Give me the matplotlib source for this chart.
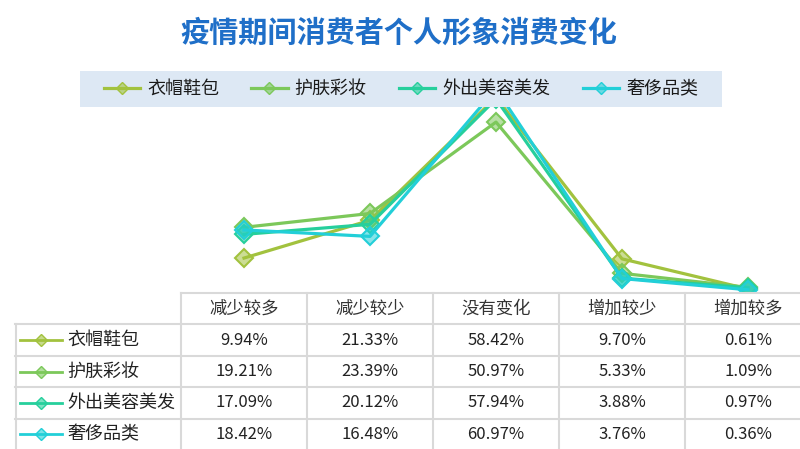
import matplotlib
matplotlib.use("Agg")
import matplotlib.pyplot as plt
from matplotlib.patches import Rectangle
from matplotlib.lines import Line2D

plt.rcParams['font.family'] = ['Noto Sans CJK SC', 'DejaVu Sans']

title = "疫情期间消费者个人形象消费变化"
categories = ["减少较多", "减少较少", "没有变化", "增加较少", "增加较多"]
series_names = ["衣帽鞋包", "护肤彩妆", "外出美容美发", "奢侈品类"]
clothing = [9.94, 21.33, 58.42, 9.70, 0.61]
skincare = [19.21, 23.39, 50.97, 5.33, 1.09]
beauty_salon = [17.09, 20.12, 57.94, 3.88, 0.97]
luxury = [18.42, 16.48, 60.97, 3.76, 0.36]
colors = ["#a2c23e", "#7cc85a", "#26cf9c", "#22cfd8"]

all_series = [clothing, skincare, beauty_salon, luxury]

W, H = 800, 449
fig = plt.figure(figsize=(8, 4.49), dpi=100)

# line chart area (pixel layout)
ax_left, ax_right = 181, 811
ax_zero, ax_top = 291, 59
ax = fig.add_axes([ax_left / W, (H - ax_zero) / H,
                   (ax_right - ax_left) / W, (ax_zero - ax_top) / H])
x = list(range(len(categories)))
for vals, name, c in zip(all_series, series_names, colors):
    ax.plot(x, vals, color=c, lw=2.3, marker="D", markersize=9,
            markerfacecolor=matplotlib.colors.to_rgba(c, 0.55),
            markeredgecolor=c, markeredgewidth=1.5, label=name)
ax.set_xlim(-0.5, len(categories) - 0.5)
ax.set_ylim(0, 70)
ax.axis("off")

# title
fig.text(399 / W, 1 - 33 / H, title, ha="center", va="center",
         fontsize=21, fontweight="bold", color="#1f6fc8")

# legend with light band behind
fig.patches.append(Rectangle((80 / W, 1 - 107 / H), 642 / W, 36 / H,
                             transform=fig.transFigure, facecolor="#dde8f4",
                             edgecolor="none", zorder=4))
handles = [Line2D([], [], color=c, lw=2.3, marker="D", markersize=6,
                  markerfacecolor=matplotlib.colors.to_rgba(c, 0.6),
                  markeredgecolor=c) for c in colors]
fig.legend(handles, series_names, loc="center", ncol=4,
           bbox_to_anchor=(401 / W, 1 - 89 / H), frameon=False,
           fontsize=13, handlelength=2.0, handletextpad=0.4,
           columnspacing=1.8, labelcolor="#1a1a1a")

# data table below
tb_left, tb_top, tb_bottom = 15, 293, 450
col_w = (ax_right - ax_left) / len(categories)
x0 = -0.5 - (ax_left - tb_left) / col_w
tx = fig.add_axes([tb_left / W, (H - tb_bottom) / H,
                   (ax_right - tb_left) / W, (tb_bottom - tb_top) / H])
tx.set_xlim(x0, len(categories) - 0.5)
tx.set_ylim(5, 0)
tx.axis("off")
grid_kw = dict(color="#d9d9d9", lw=1.5, clip_on=False)
tx.plot([-0.5, len(categories) - 0.5], [0, 0], **grid_kw)
for r in range(1, 5):
    tx.plot([x0, len(categories) - 0.5], [r, r], **grid_kw)
for k in range(len(categories) + 1):
    tx.plot([k - 0.5, k - 0.5], [0, 5], **grid_kw)
tx.plot([x0 + 0.01, x0 + 0.01], [1, 5], **grid_kw)

for i, cat in enumerate(categories):
    tx.text(i, 0.5, cat, ha="center", va="center", fontsize=12.5, color="#333333")

px = 1 / col_w
for r, (vals, name, c) in enumerate(zip(all_series, series_names, colors)):
    yy = r + 1.5
    tx.plot([x0 + 5 * px, x0 + 47 * px], [yy, yy], color=c, lw=2.0)
    tx.plot([x0 + 26 * px], [yy], color=c, marker="D", markersize=6,
            markerfacecolor=matplotlib.colors.to_rgba(c, 0.6), markeredgecolor=c)
    tx.text(x0 + 52 * px, yy, name, ha="left", va="center", fontsize=13, color="#222222")
    for i, v in enumerate(vals):
        tx.text(i, yy, f"{v:.2f}%", ha="center", va="center", fontsize=12, color="#222222")

fig.savefig("out.png", dpi=100)
